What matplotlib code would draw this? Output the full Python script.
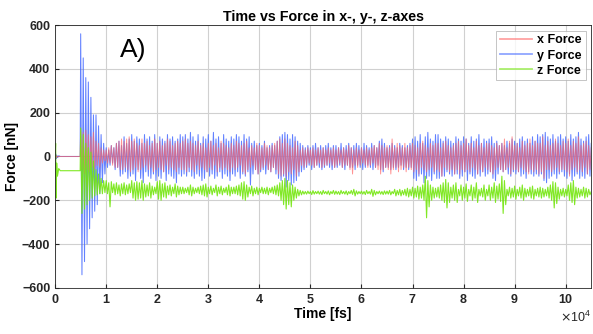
import numpy as np
import matplotlib.pyplot as plt
from matplotlib.ticker import ScalarFormatter

plt.rcParams['font.family'] = ['Liberation Sans', 'DejaVu Sans']

# time before the tip reaches the surface [fs]
t_pre = [0, 100, 200, 300, 450, 700, 1000, 1500, 2500, 3500, 4900]
x_pre = [0, 5, -5, 3, -2, 0, 0, 0, 0, 0, 0]
y_pre = [0, 12, -10, 6, -5, 3, 0, 0, 0, 0, 0]
z_pre = [0, 60, -190, -30, -90, -55, -65, -65, -65, -65, -65]

# main run: alternating extremes every 250 fs, 5000 .. 105000 fs
t_main = np.arange(5000, 105001, 250)

x_force = [
    120, -60, 110, -80, 120, -60, 100, -70, 90, -50, 110, -60, 70, -40, 60, -50, 40, -30, 30, -20,
    30, -30, 40, -30, 50, -40, 40, -50, 60, -50, 70, -60, 80, -60, 70, -50, 80, -60, 90, -70,
    70, -60, 80, -50, 60, -70, 50, -60, 80, -50, 60, -40, 70, -60, 50, -50, 60, -70, 80, -60,
    60, -50, 70, -60, 50, -70, 60, -40, 80, -60, 70, -50, 50, -60, 60, -70, 70, -50, 60, -60,
    70, -60, 80, -70, 60, -50, 70, -60, 60, -70, 50, -40, 70, -60, 50, -50, 60, -60, 40, -70,
    60, -50, 70, -60, 50, -40, 60, -70, 40, -50, 70, -60, 60, -50, 50, -60, 40, -70, 60, -50,
    50, -60, 70, -50, 60, -40, 50, -70, 60, -80, 70, -60, 40, -50, 50, -40, 40, -60, 60, -80,
    50, -60, 40, -50, 60, -40, 50, -60, 40, -70, 50, -50, 60, -60, 70, -80, 80, -90, 60, -80,
    80, -90, 60, -70, 50, -80, 40, -60, 70, -90, 50, -70, 30, -40, 40, -50, 30, -40, 40, -30,
    30, -40, 40, -50, 30, -40, 40, -30, 30, -50, 40, -40, 30, -40, 40, -30, 30, -40, 40, -50,
    30, -40, 40, -30, 30, -50, 40, -40, 30, -40, 50, -60, 40, -80, 30, -40, 40, -50, 30, -40,
    40, -30, 30, -40, 40, -50, 30, -40, 40, -30, 50, -50, 40, -60, 60, -80, 50, -60, 40, -50,
    50, -60, 40, -80, 80, -60, 40, -50, 60, -70, 50, -60, 40, -50, 60, -70, 40, -50, 50, -60,
    60, -70, 50, -60, 40, -80, 60, -50, 70, -60, 50, -70, 40, -60, 60, -50, 50, -70, 60, -60,
    60, -70, 40, -90, 60, -50, 70, -60, 50, -70, 40, -60, 50, -80, 60, -60, 70, -80, 50, -60,
    60, -70, 80, -60, 50, -70, 60, -50, 40, -60, 70, -80, 50, -60, 60, -70, 40, -50, 60, -60,
    60, -70, 50, -80, 40, -60, 60, -50, 50, -60, 60, -70, 80, -60, 40, -50, 70, -80, 90, -60,
    50, -60, 60, -70, 40, -50, 70, -60, 50, -70, 60, -80, 80, -60, 50, -70, 70, -60, 60, -80,
    60, -70, 90, -100, 50, -60, 70, -60, 50, -70, 60, -60, 80, -50, 60, -70, 50, -60, 70, -60,
    60, -70, 80, -90, 50, -60, 70, -50, 60, -70, 90, -60, 50, -70, 60, -50, 70, -80, 50, -60,
    40,
]

y_force = [
    560, -540, 450, -480, 360, -400, 340, -330, 270, -280, 190, -250, 190, -220, 140, -170, 100, -120, 60, -80,
    40, -50, 30, -40, 50, -30, 40, -60, 60, -50, 70, -90, 50, -80, 90, -70, 60, -100, 80, -90,
    100, -80, 70, -110, 90, -60, 80, -100, 60, -120, 100, -70, 80, -90, 90, -100, 70, -80, 100, -110,
    60, -90, 90, -100, 80, -70, 70, -110, 100, -80, 80, -90, 90, -100, 70, -120, 80, -80, 100, -90,
    90, -80, 100, -90, 80, -70, 110, -90, 90, -100, 70, -80, 100, -90, 60, -110, 90, -100, 80, -70,
    100, -90, 70, -80, 110, -100, 80, -90, 90, -70, 60, -100, 100, -80, 80, -90, 70, -110, 90, -80,
    80, -90, 100, -70, 90, -100, 70, -80, 100, -90, 80, -70, 90, -130, 60, -80, 70, -60, 50, -80,
    60, -70, 50, -60, 70, -80, 40, -60, 50, -70, 60, -50, 50, -80, 70, -100, 90, -110, 100, -90,
    110, -140, 100, -110, 80, -130, 100, -120, 90, -110, 70, -90, 60, -70, 50, -60, 40, -50, 50, -40,
    40, -60, 50, -50, 60, -40, 40, -50, 50, -60, 40, -50, 50, -40, 60, -50, 40, -60, 50, -50,
    50, -50, 40, -40, 60, -50, 40, -60, 50, -40, 60, -50, 40, -50, 50, -60, 60, -40, 50, -50,
    40, -60, 60, -50, 50, -40, 40, -50, 60, -60, 50, -50, 40, -40, 70, -60, 80, -70, 60, -50,
    40, -50, 50, -60, 60, -50, 50, -60, 40, -50, 60, -40, 50, -60, 40, -50, 50, -60, 60, -50,
    80, -100, 90, -110, 70, -90, 100, -80, 60, -120, 90, -100, 110, -90, 80, -110, 70, -80, 100, -100,
    100, -100, 80, -90, 70, -90, 90, -70, 80, -80, 70, -90, 60, -80, 90, -80, 80, -100, 70, -90,
    90, -70, 80, -110, 60, -80, 90, -90, 70, -100, 80, -80, 100, -90, 60, -70, 80, -90, 70, -80,
    80, -70, 90, -100, 60, -110, 70, -80, 50, -60, 60, -70, 50, -60, 70, -80, 60, -90, 80, -70,
    70, -80, 60, -70, 80, -90, 90, -80, 70, -100, 80, -70, 60, -80, 90, -90, 70, -80, 100, -90,
    90, -80, 100, -110, 110, -120, 90, -100, 80, -90, 100, -80, 70, -100, 90, -80, 100, -70, 80, -90,
    90, -100, 70, -80, 100, -110, 80, -90, 90, -80, 110, -100, 80, -90, 70, -100, 90, -80, 100, -90,
    60,
]

z_force = [
    130, -260, 100, -240, 60, -220, 40, -200, 20, -190, -20, -180, -60, -175, -80, -170, -100, -170, -110, -165,
    -110, -170, -120, -230, -115, -165, -125, -175, -120, -170, -130, -180, -125, -170, -120, -175, -130, -170, -125, -165,
    -110, -190, -120, -200, -115, -195, -120, -190, -110, -200, -125, -185, -130, -180, -120, -190, -135, -175, -140, -170,
    -115, -195, -110, -200, -125, -185, -120, -190, -135, -175, -130, -180, -140, -170, -125, -185, -135, -175, -140, -170,
    -140, -170, -145, -165, -140, -175, -130, -180, -140, -170, -145, -165, -140, -170, -135, -175, -130, -180, -125, -185,
    -140, -170, -135, -175, -145, -165, -130, -180, -140, -170, -135, -175, -145, -165, -140, -175, -130, -180, -140, -170,
    -140, -170, -135, -175, -130, -180, -120, -195, -115, -200, -130, -185, -140, -170, -135, -180, -145, -170, -140, -175,
    -145, -165, -140, -170, -145, -170, -140, -175, -145, -165, -140, -170, -135, -175, -130, -180, -120, -200, -110, -220,
    -100, -240, -110, -220, -120, -230, -130, -200, -140, -190, -150, -180, -155, -175, -158, -172, -160, -172, -158, -170,
    -160, -174, -156, -172, -160, -170, -158, -172, -160, -174, -155, -170, -160, -172, -157, -175, -160, -170, -155, -173,
    -158, -172, -160, -174, -155, -170, -160, -172, -157, -175, -160, -170, -155, -173, -150, -180, -157, -172, -160, -170,
    -158, -172, -160, -174, -155, -170, -160, -172, -150, -182, -155, -175, -160, -170, -158, -172, -160, -174, -157, -172,
    -158, -172, -155, -175, -160, -170, -150, -180, -155, -175, -150, -180, -155, -175, -150, -180, -145, -185, -150, -180,
    -140, -190, -145, -185, -135, -195, -140, -190, -130, -200, -90, -280, -110, -230, -130, -200, -140, -190, -145, -185,
    -140, -190, -130, -200, -120, -210, -105, -235, -120, -210, -140, -190, -130, -200, -120, -210, -150, -180, -130, -200,
    -140, -190, -125, -205, -150, -180, -130, -200, -140, -190, -120, -210, -150, -180, -145, -185, -130, -200, -150, -180,
    -130, -200, -140, -190, -120, -210, -135, -195, -125, -205, -90, -260, -110, -220, -150, -180, -140, -190, -145, -185,
    -135, -195, -150, -180, -140, -190, -130, -200, -145, -185, -150, -180, -140, -190, -135, -195, -150, -180, -145, -185,
    -140, -190, -145, -185, -150, -180, -140, -190, -130, -200, -115, -235, -120, -215, -140, -195, -150, -180, -145, -185,
    -150, -180, -130, -200, -120, -210, -110, -220, -140, -190, -145, -185, -150, -180, -140, -190, -145, -185, -150, -175,
    -160,
]

t = np.concatenate([t_pre, t_main])
fx = np.concatenate([x_pre, x_force])
fy = np.concatenate([y_pre, y_force])
fz = np.concatenate([z_pre, z_force])

fig, ax = plt.subplots(figsize=(5.93, 3.34), dpi=100)
fig.subplots_adjust(left=0.093, right=0.997, top=0.925, bottom=0.138)

# blue underneath, red on top of it, green on top of both
line_y, = ax.plot(t, fy, color=(0.28, 0.42, 1.0), lw=0.75, alpha=0.85, label="y Force")
line_x, = ax.plot(t, fx, color=(1.0, 0.4, 0.4), lw=0.7, alpha=0.7, label="x Force")
line_z, = ax.plot(t, fz, color=(0.45, 0.9, 0.05), lw=0.8, alpha=0.9, label="z Force")

ax.set_xlim(0, 105000)
ax.set_ylim(-600, 600)
ax.set_xticks(np.arange(0, 100001, 10000))
ax.set_yticks(np.arange(-600, 601, 200))

fmt = ScalarFormatter(useMathText=True)
fmt.set_powerlimits((4, 4))
ax.xaxis.set_major_formatter(fmt)

ax.grid(True, color='#d0d0d0', lw=0.8)
ax.set_axisbelow(True)
ax.tick_params(direction='in', length=3, labelsize=9, colors='#262626')
for lab in ax.get_xticklabels() + ax.get_yticklabels():
    lab.set_fontweight('bold')
ax.xaxis.get_offset_text().set_fontsize(9)
for s in ax.spines.values():
    s.set_color('#262626')
    s.set_linewidth(0.6)

ax.set_title("Time vs Force in x-, y-, z-axes", fontsize=10.3, fontweight='bold', pad=3)
ax.set_xlabel("Time [fs]", fontsize=10, fontweight='bold', labelpad=1)
ax.set_ylabel("Force [nN]", fontsize=10, fontweight='bold', labelpad=2)

ax.text(0.121, 0.95, "A)", transform=ax.transAxes, fontsize=19, va='top', ha='left')

leg = ax.legend([line_x, line_y, line_z], ["x Force", "y Force", "z Force"],
                loc='upper right', prop={'weight': 'bold', 'size': 9},
                frameon=True, fancybox=False, borderpad=0.3, labelspacing=0.25,
                handlelength=2.6, handletextpad=0.4, borderaxespad=0.45)
leg.get_frame().set_edgecolor('#aaaaaa')
leg.get_frame().set_linewidth(0.6)
for ln in leg.get_lines():
    ln.set_linewidth(1.3)
    ln.set_alpha(0.6)

fig.savefig("out.png", dpi=100)
